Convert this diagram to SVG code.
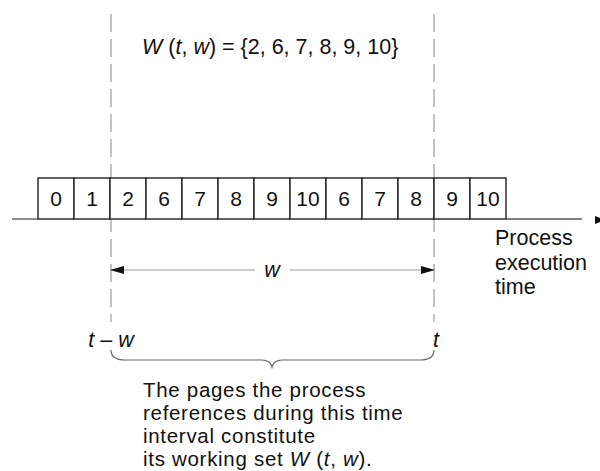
<svg xmlns="http://www.w3.org/2000/svg" width="600" height="471" viewBox="0 0 600 471">
<style>
text{font-family:"Liberation Sans",Arial,sans-serif;fill:#111;}
.d{font-size:21px;text-anchor:middle;}
.lbl{font-size:21.5px;}
.note{font-size:20.5px;letter-spacing:0.7px;}
.i{font-style:italic;}
.box{fill:#fff;stroke:#222;stroke-width:1.4;}
.dash{stroke:#888;stroke-width:1;stroke-dasharray:18 7;fill:none;}
.axis{stroke:#555;stroke-width:1.3;fill:none;}
.arr{stroke:#999;stroke-width:1;fill:none;}
</style>
<defs>
<marker id="ah" markerWidth="14" markerHeight="8" refX="13" refY="4" orient="auto-start-reverse" markerUnits="userSpaceOnUse">
<path d="M0,0 L14,4 L0,8 Z" fill="#111"/>
</marker>
</defs>
<rect width="600" height="471" fill="#fff"/>
<g id="connectors">
<line class="dash" x1="111" y1="14" x2="111" y2="322"/>
<line class="dash" x1="434" y1="14" x2="434" y2="322"/>
<line class="axis" x1="12" y1="219" x2="38" y2="219"/>
<line class="axis" x1="506" y1="219" x2="582" y2="219" stroke="#999"/>
<path d="M595,216 L600,218 L600,222 L595,224 Z" fill="#111"/>
<line class="arr" x1="111" y1="270" x2="255" y2="270" marker-start="url(#ah)"/>
<line class="arr" x1="290" y1="270" x2="434" y2="270" marker-end="url(#ah)"/>
<path d="M111,350 Q111,360 125,360 L262,360 Q270,360 272,367 Q274,360 282,360 L420,360 Q434,360 434,350" fill="none" stroke="#666" stroke-width="1.2"/>
</g>
<g id="title"><text class="lbl" x="142" y="54"><tspan class="i">W</tspan> (<tspan class="i">t</tspan>, <tspan class="i">w</tspan>) = {2, 6, 7, 8, 9, 10}</text></g>
<g id="strip">
<rect class="box" x="38" y="178" width="36" height="41"/>
<rect class="box" x="74" y="178" width="36" height="41"/>
<rect class="box" x="110" y="178" width="36" height="41"/>
<rect class="box" x="146" y="178" width="36" height="41"/>
<rect class="box" x="182" y="178" width="36" height="41"/>
<rect class="box" x="218" y="178" width="36" height="41"/>
<rect class="box" x="254" y="178" width="36" height="41"/>
<rect class="box" x="290" y="178" width="36" height="41"/>
<rect class="box" x="326" y="178" width="36" height="41"/>
<rect class="box" x="362" y="178" width="36" height="41"/>
<rect class="box" x="398" y="178" width="36" height="41"/>
<rect class="box" x="434" y="178" width="36" height="41"/>
<rect class="box" x="470" y="178" width="36" height="41"/>
<text class="d" x="56" y="206">0</text>
<text class="d" x="92" y="206">1</text>
<text class="d" x="128" y="206">2</text>
<text class="d" x="164" y="206">6</text>
<text class="d" x="200" y="206">7</text>
<text class="d" x="236" y="206">8</text>
<text class="d" x="272" y="206">9</text>
<text class="d" x="308" y="206">10</text>
<text class="d" x="344" y="206">6</text>
<text class="d" x="380" y="206">7</text>
<text class="d" x="416" y="206">8</text>
<text class="d" x="452" y="206">9</text>
<text class="d" x="488" y="206">10</text>
</g>
<g id="axis-label">
<text class="lbl" x="495" y="245">Process</text>
<text class="lbl" x="495" y="270">execution</text>
<text class="lbl" x="495" y="294">time</text>
</g>
<g id="w-label"><text class="lbl i" x="272" y="277" text-anchor="middle">w</text></g>
<g id="tw-label"><text class="lbl i" x="111" y="347" text-anchor="middle">t – w</text></g>
<g id="t-label"><text class="lbl i" x="436" y="347" text-anchor="middle">t</text></g>
<g id="note">
<text class="note" x="143" y="397">The pages the process</text>
<text class="note" x="143" y="420">references during this time</text>
<text class="note" x="143" y="443">interval constitute</text>
<text class="note" x="143" y="466">its working set <tspan class="i">W</tspan> (<tspan class="i">t</tspan>, <tspan class="i">w</tspan>).</text>
</g>
</svg>
